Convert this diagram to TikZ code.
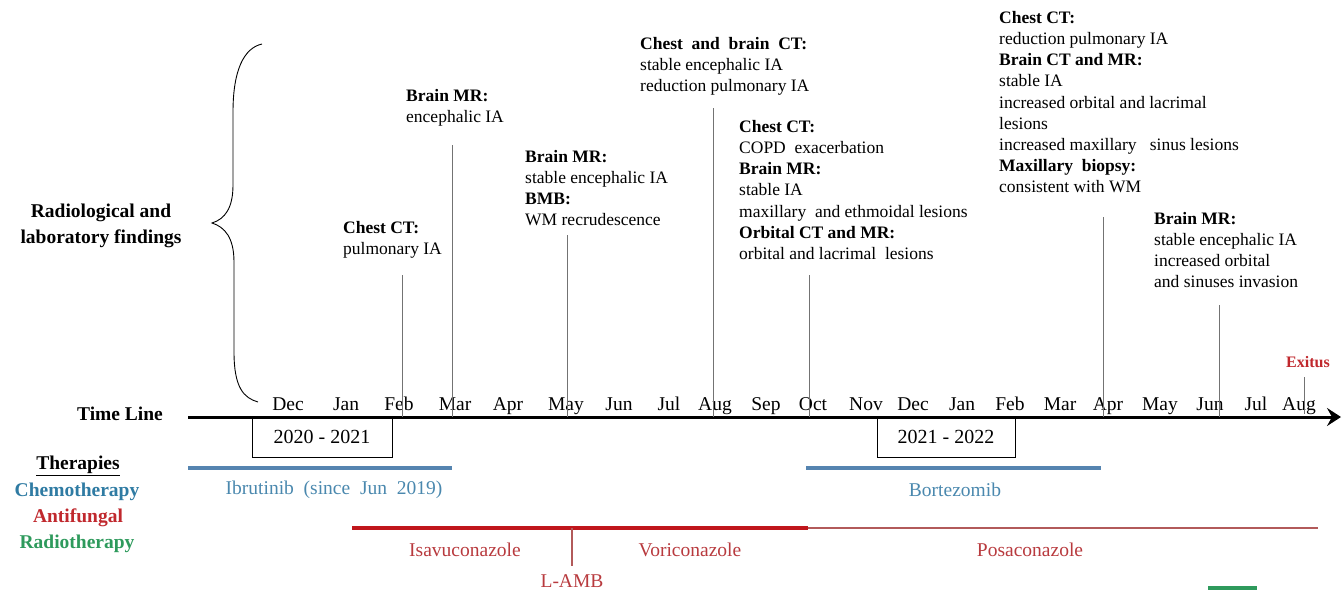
\documentclass[tikz,border=0pt]{standalone}
\usepackage{fontspec}
\setmainfont{Liberation Serif}
\usetikzlibrary{arrows.meta}
\definecolor{chemoblue}{HTML}{2F7BA3}
\definecolor{chemoline}{HTML}{5584B0}
\definecolor{drugblue}{HTML}{4A88AE}
\definecolor{afred}{HTML}{C0282D}
\definecolor{afline}{HTML}{C0161C}
\definecolor{afthin}{HTML}{B25A5A}
\definecolor{drugred}{HTML}{B83A3E}
\definecolor{rtgreen}{HTML}{2E9A5C}
\tikzset{
  ann/.style={anchor=north west, align=left, inner sep=0pt, font=\fontsize{17.5}{21.2}\selectfont},
  month/.style={anchor=base, inner sep=0pt, font=\fontsize{19.5}{22}\selectfont},
  vline/.style={draw=black!55, line width=0.8pt},
  yearbox/.style={draw, line width=1pt, minimum width=140pt, minimum height=40pt, inner sep=0pt, font=\fontsize{20}{22}\selectfont},
  leftlab/.style={inner sep=0pt, font=\bfseries\fontsize{19.5}{26}\selectfont, align=center},
  druglab/.style={inner sep=0pt, font=\fontsize{19.5}{22}\selectfont},
  bar/.style={line width=4pt},
}
\begin{document}
\begin{tikzpicture}[x=1pt,y=-1pt]
\useasboundingbox (0,0) rectangle (1344,594);
% brace and left labels
\draw[line width=0.9pt] (262,44) .. controls (244,48) and (233,70) .. (233,112) -- (233,185)
  .. controls (233,208) and (225,219) .. (212,223)
  .. controls (225,227) and (234,238) .. (234,262) -- (234,352)
  .. controls (234,388) and (244,398) .. (258,402);
\node[leftlab] (radlab) at (101,226) {Radiological and\\laboratory findings};
\node[leftlab, anchor=base] (tl) at (120,420) {Time Line};
% axis
\coordinate (axS) at (188,417);
\coordinate (axE) at (1341,417);
\draw[line width=3pt, -{Stealth[length=14pt,width=18pt,inset=5pt]}] (axS) -- (axE);
% months
\foreach \x/\m/\n in {288/Dec/m1,346/Jan/m2,399/Feb/m3,455/Mar/m4,508/Apr/m5,566/May/m6,619/Jun/m7,669/Jul/m8,715/Aug/m9,766/Sep/m10,
  813/Oct/m11,866/Nov/m12,913/Dec/m13,962/Jan/m14,1010/Feb/m15,1060/Mar/m16,1108/Apr/m17,1160/May/m18,1210/Jun/m19,1256/Jul/m20,1299/Aug/m21}
  \node[month] (\n) at (\x,410) {\m};
% year boxes
\node[yearbox] (y1) at (322,437) {2020 - 2021};
\node[yearbox, minimum width=138pt] (y2) at (946,437) {2021 - 2022};
% event lines
\foreach \x/\t/\n in {402/275/e1,452/145/e2,567/235/e3,713/108/e4,809/275/e5,1103/217/e6,1219/305/e7}{
  \coordinate (\n t) at (\x,\t);
  \coordinate (\n b) at (\x,417);
  \draw[vline] (\n t) -- (\n b);
}
\coordinate (ext) at (1304,377);
\coordinate (exb) at (1304,414);
\draw[vline] (ext) -- (exb);
\node[inner sep=0pt, font=\bfseries\fontsize{16}{18}\selectfont, text=afred] (exitus) at (1308,362) {Exitus};
% annotations
\node[ann] (a1) at (343,221) {\textbf{Chest CT:}\\pulmonary IA};
\node[ann] (a2) at (406,89) {\textbf{Brain MR:}\\encephalic IA};
\node[ann] (a3) at (525,150) {\textbf{Brain MR:}\\stable encephalic IA\\\textbf{BMB:}\\WM recrudescence};
\node[ann] (a4) at (640,37) {\textbf{Chest\ \ and\ \ brain\ \ CT:}\\stable encephalic IA\\reduction pulmonary IA};
\node[ann] (a5) at (739,120) {\textbf{Chest CT:}\\COPD\ \ exacerbation\\\textbf{Brain MR:}\\stable IA\\maxillary\ \ and ethmoidal lesions\\\textbf{Orbital CT and MR:}\\orbital and lacrimal\ \ lesions};
\node[ann] (a6) at (999,11) {\textbf{Chest CT:}\\reduction pulmonary IA\\\textbf{Brain CT and MR:}\\stable IA\\increased orbital and lacrimal\\lesions\\increased maxillary\ \ \ sinus lesions\\\textbf{Maxillary\ \ biopsy:}\\consistent with WM};
\node[ann] (a7) at (1154,212) {\textbf{Brain MR:}\\stable encephalic IA\\increased orbital\\and sinuses invasion};
% therapies legend
\node[leftlab] (ther) at (78,466) {\underline{Therapies}};
\node[leftlab, text=chemoblue] (chemo) at (77,492) {Chemotherapy};
\node[leftlab, text=afred] (anti) at (78,518) {Antifungal};
\node[leftlab, text=rtgreen] (radio) at (77,544) {Radiotherapy};
% chemotherapy bars
\coordinate (ib1) at (188,468); \coordinate (ib2) at (452,468);
\draw[bar, draw=chemoline] (ib1) -- (ib2);
\node[druglab, text=drugblue] (ibr) at (334,490) {Ibrutinib\ \ (since\ \ Jun\ \ 2019)};
\coordinate (bo1) at (806,468); \coordinate (bo2) at (1101,468);
\draw[bar, draw=chemoline] (bo1) -- (bo2);
\node[druglab, text=drugblue] (bor) at (955,490) {Bortezomib};
% antifungal bars
\coordinate (af1) at (352,528); \coordinate (af2) at (808,528); \coordinate (af3) at (1318,528);
\coordinate (lamt) at (572,528); \coordinate (lamb) at (572,566);
\draw[bar, draw=afline] (af1) -- (af2);
\draw[line width=1.5pt, draw=afthin] (af2) -- (af3);
\draw[line width=1.2pt, draw=afthin] (lamt) -- (lamb);
\node[druglab, text=drugred] (isa) at (465,550) {Isavuconazole};
\node[druglab, text=drugred] (vor) at (690,550) {Voriconazole};
\node[druglab, text=drugred] (pos) at (1030,550) {Posaconazole};
\node[druglab, text=drugred] (lamblab) at (572,581) {L-AMB};
% radiotherapy
\coordinate (rt1) at (1208,588); \coordinate (rt2) at (1257,588);
\draw[bar, draw=rtgreen] (rt1) -- (rt2);
\end{tikzpicture}
\end{document}
